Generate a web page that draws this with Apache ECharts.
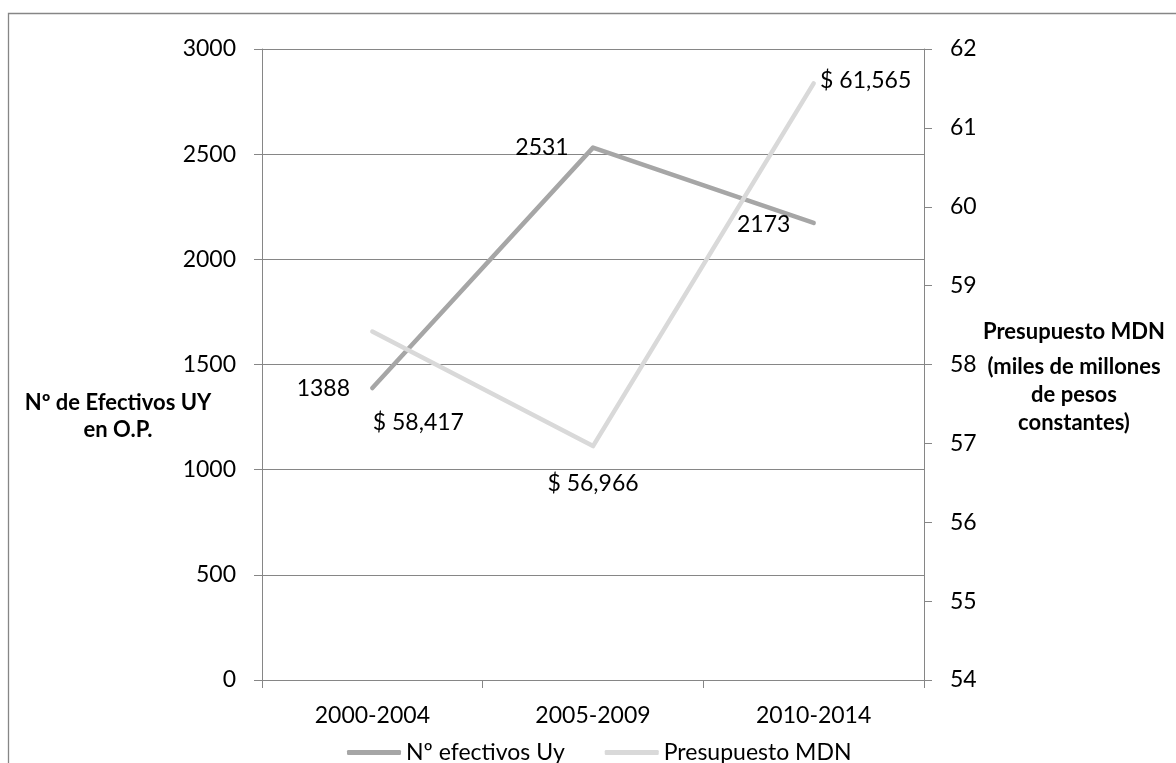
<!DOCTYPE html>
<html>
<head>
<meta charset="utf-8">
<script src="https://cdn.jsdelivr.net/npm/echarts@6/dist/echarts.min.js"></script>
<style>
  html, body { margin: 0; padding: 0; background: #fff; }
  #chart { width: 1176px; height: 763px; }
</style>
</head>
<body>
<div id="chart"></div>
<script>
const periods = ['2000-2004', '2005-2009', '2010-2014']
const efectivos = [1388, 2531, 2173]
const presupuesto = [58.417, 56.966, 61.565]
const leftTicks = { min: 0, max: 3000, interval: 500 }
const rightTicks = { min: 54, max: 62, interval: 1 }

// label offsets from each point (Excel placed them by hand)
const efectivosLabelOffsets = [[-49, 1], [-51, 0], [-50, 2]]
const presupuestoLabelOffsets = [[46, 91], [0, 38], [52, -3]]

const font = 'Lato, "Open Sans", sans-serif'
const gridGray = '#868686'

const chart = echarts.init(document.getElementById('chart'))

function pointLabels(values, offsets, fmt) {
  return values.map((v, i) => ({
    value: v,
    label: {
      show: true,
      position: 'inside',
      offset: offsets[i],
      formatter: () => fmt(v),
      color: '#000',
      fontSize: 23,
      fontFamily: font
    }
  }))
}

const axisBase = {
  axisLine: { show: true, lineStyle: { color: gridGray, width: 1 } },
  axisTick: { show: true, length: 8, lineStyle: { color: gridGray } },
  axisLabel: { color: '#000', fontSize: 23, fontFamily: font, margin: 26, formatter: v => String(v) }
}

chart.setOption({
  animation: false,
  grid: { left: 262, right: 252, top: 49, bottom: 83 },
  legend: {
    left: 342,
    top: 736,
    itemWidth: 54,
    itemHeight: 5,
    itemGap: 40,
    icon: 'roundRect',
    textStyle: { color: '#000', fontSize: 23, fontFamily: font },
    data: ['Nº efectivos Uy', 'Presupuesto MDN']
  },
  xAxis: {
    type: 'category',
    data: periods,
    boundaryGap: true,
    axisLine: axisBase.axisLine,
    axisTick: { show: true, length: 8, interval: 0, lineStyle: { color: gridGray } },
    axisLabel: { color: '#000', fontSize: 23, fontFamily: font, margin: 24 }
  },
  yAxis: [
    {
      type: 'value',
      ...leftTicks,
      ...axisBase,
      splitLine: { show: true, lineStyle: { color: gridGray, width: 1 } }
    },
    {
      type: 'value',
      position: 'right',
      ...rightTicks,
      ...axisBase,
      splitLine: { show: false }
    }
  ],
  graphic: [
    {
      type: 'rect',
      silent: true,
      shape: { x: 8.5, y: 13.5, width: 1200, height: 800 },
      style: { fill: null, stroke: gridGray, lineWidth: 1.3 }
    },
    {
      type: 'text',
      x: 118, y: 416,
      style: {
        text: 'Nº de Efectivos UY\nen O.P.',
        align: 'center', verticalAlign: 'middle',
        font: 'bold 22px ' + font, lineHeight: 27, fill: '#000'
      }
    },
    {
      type: 'text',
      x: 1074, y: 332,
      style: {
        text: 'Presupuesto MDN',
        align: 'center', verticalAlign: 'middle',
        font: 'bold 22px ' + font, fill: '#000'
      }
    },
    {
      type: 'text',
      x: 1074, y: 395,
      style: {
        text: '(miles de millones\nde pesos\nconstantes)',
        align: 'center', verticalAlign: 'middle',
        font: 'bold 22px ' + font, lineHeight: 28, fill: '#000'
      }
    }
  ],
  series: [
    {
      name: 'Nº efectivos Uy',
      type: 'line',
      yAxisIndex: 0,
      color: '#a6a6a6',
      symbol: 'circle',
      symbolSize: 0,
      lineStyle: { width: 4.5, cap: 'round', join: 'round' },
      data: pointLabels(efectivos, efectivosLabelOffsets, v => String(v))
    },
    {
      name: 'Presupuesto MDN',
      type: 'line',
      yAxisIndex: 1,
      color: '#d9d9d9',
      symbol: 'circle',
      symbolSize: 0,
      lineStyle: { width: 4.5, cap: 'round', join: 'round' },
      data: pointLabels(presupuesto, presupuestoLabelOffsets, v => '$ ' + v.toFixed(3).replace('.', ','))
    }
  ]
})
</script>
</body>
</html>
